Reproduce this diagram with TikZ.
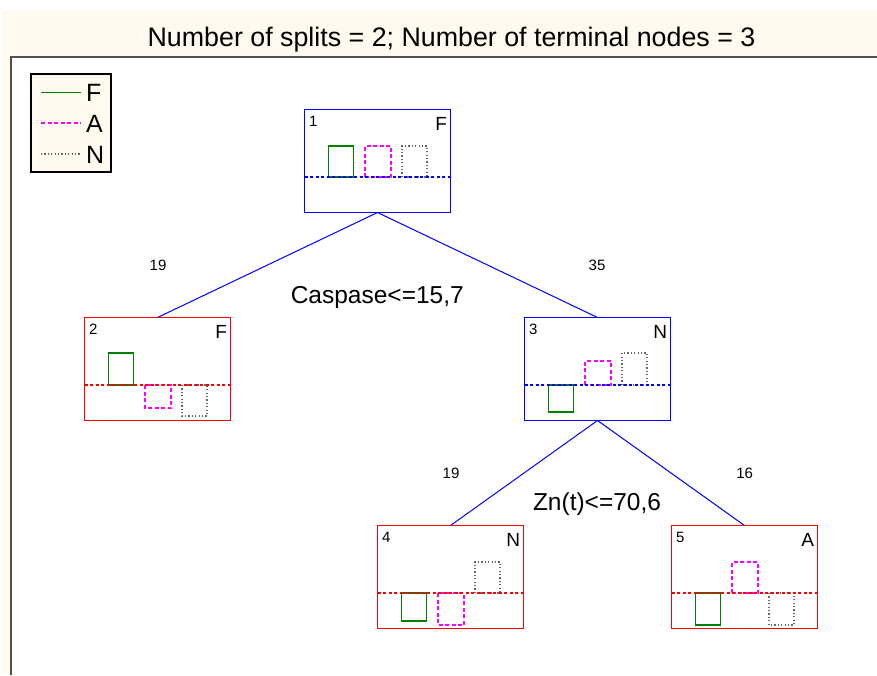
\documentclass[tikz,border=0pt]{standalone}
\usepackage{fontspec}
\setmainfont{Liberation Sans}
\usetikzlibrary{calc}

\definecolor{paper}{HTML}{FFFAF0}
\definecolor{framegray}{HTML}{505050}
\definecolor{fgreen}{HTML}{008000}
\definecolor{amag}{HTML}{FF00FF}
\definecolor{ngray}{HTML}{666666}

% font size given in pixels (1pt = 1px here)
\newcommand{\px}[1]{\fontsize{#1}{#1}\selectfont}

\tikzset{
  every node/.style={inner sep=0pt, outer sep=0pt},
  treebox/.style={draw=#1, line width=1pt, minimum width=146pt,
    minimum height=103pt, anchor=north west, fill=white},
  splitedge/.style={draw=blue, line width=1pt},
  barF/.style={draw=fgreen, line width=1.2pt},
  barA/.style={draw=amag, line width=1.4pt, dash pattern=on 4pt off 2.5pt},
  barN/.style={draw=ngray, line width=1.3pt, dash pattern=on 1.2pt off 2.2pt},
  baseln/.style={draw=#1, line width=1.3pt, dash pattern=on 3pt off 2.5pt},
  countlbl/.style={anchor=base, font=\px{15}},
  splitlbl/.style={anchor=base, font=\px{24.5}},
}

% tree node: name, NW corner, colour, class, number, bar heights F, A, N (up > 0)
\newcommand{\treenode}[8]{%
  \node[treebox=#3] (#1) at (#2) {};
  \begin{scope}[shift={(#1.north west)}]
    \draw[barF] (24,67.5) rectangle (49,{67.5-(#6)});
    \draw[barA] (60.5,67.5) rectangle (86.5,{67.5-(#7)});
    \draw[barN] (97.5,67.5) rectangle (122.5,{67.5-(#8)});
    \draw[baseln=#3] (0,67.5) -- (146,67.5);
    \node[anchor=base west, font=\px{15}] at (4.5,16.5) {#5};
    \node[anchor=base east, font=\px{19}] at (142.5,20.5) {#4};
  \end{scope}}

\begin{document}
\begin{tikzpicture}[x=1pt, y=-1pt]
  \useasboundingbox (0,0) rectangle (877,675);
  % page and plot area
  \fill[white] (0,0) rectangle (877,675);
  \fill[paper] (2,10) rectangle (877,675);
  \fill[white] (11,57) rectangle (877,675);
  \draw[framegray, line width=2pt] (11,675) -- (11,57) -- (877,57);

  \node[anchor=base, font=\px{26.8}] (title) at (451.5,46.5)
    {Number of splits = 2; Number of terminal nodes = 3};

  % legend
  \draw[fill=paper, line width=1.5pt] (31,74) rectangle (111,172);
  \draw[barF] (41,92.5) -- (81,92.5);
  \draw[barA] (41,123) -- (81,123);
  \draw[barN] (41,154) -- (81,154);
  \node[anchor=base west, font=\px{25}] (legF) at (86,101.9) {F};
  \node[anchor=base west, font=\px{25}] (legA) at (86,132.5) {A};
  \node[anchor=base west, font=\px{25}] (legN) at (86,163.2) {N};

  % tree
  \treenode{n1}{304.5,109.5}{blue}{F}{1}{31}{31}{31}
  \treenode{n2}{84.5,317.5}{red}{F}{2}{32}{-23}{-31}
  \treenode{n3}{524.5,317.5}{blue}{N}{3}{-27}{24}{32}
  \treenode{n4}{377.5,525.5}{red}{N}{4}{-28}{-32}{31}
  \treenode{n5}{671.5,525.5}{red}{A}{5}{-32}{31}{-32}

  \draw[splitedge] (n1.south) -- (n2.north);
  \draw[splitedge] (n1.south) -- (n3.north);
  \draw[splitedge] (n3.south) -- (n4.north);
  \draw[splitedge] (n3.south) -- (n5.north);

  \node[countlbl] (c2) at (158,270.7) {19};
  \node[countlbl] (c3) at (597,270.7) {35};
  \node[splitlbl] (s1) at (377.3,303.3) {Caspase<=15,7};
  \node[countlbl] (c4) at (451,478.3) {19};
  \node[countlbl] (c5) at (744.7,478.3) {16};
  \node[splitlbl] (s3) at (597,510) {Zn(t)<=70,6};
\end{tikzpicture}
\end{document}
